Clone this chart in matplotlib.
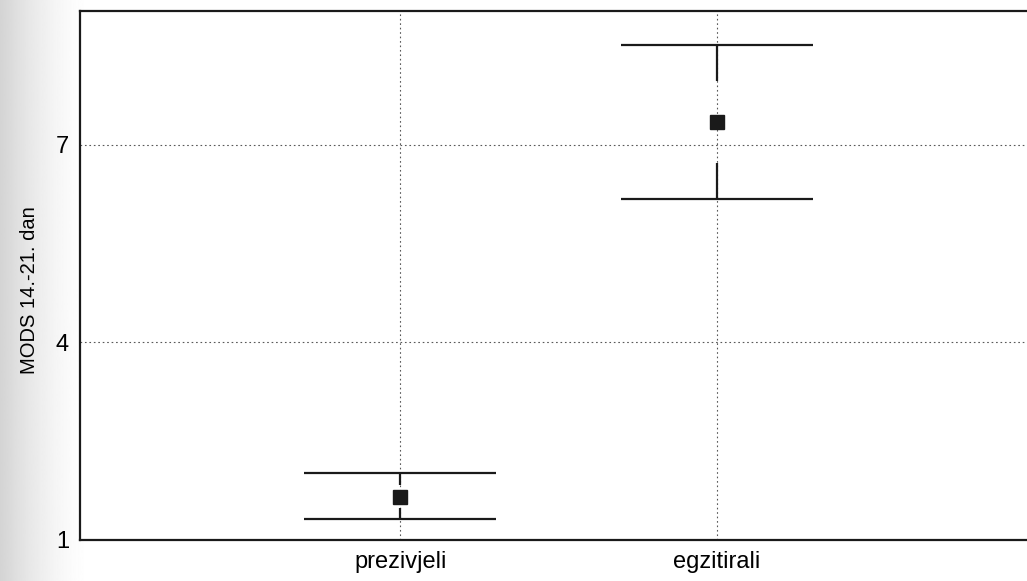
import numpy as np
import matplotlib.pyplot as plt

plt.rcParams['font.family'] = ['Liberation Sans', 'DejaVu Sans']

# groups and values
groups = ['prezivjeli', 'egzitirali']
means = [1.66, 7.34]
se_lo = [1.49, 6.73]     # mean - SE (inner end of whisker)
se_hi = [1.84, 7.96]     # mean + SE
ci_lo = [1.32, 6.18]     # mean - 1.96*SE (cap)
ci_hi = [2.02, 8.52]     # mean + 1.96*SE (cap)
yticks = [1, 4, 7]

fig = plt.figure(figsize=(10.27, 5.81), dpi=100)

# faint grey edge of the scanned page on the left
bg = fig.add_axes([0, 0, 0.09, 1], zorder=-5)
grad = 1 - 0.17 * np.linspace(1, 0, 100) ** 1.6
bg.imshow(grad[None, :], cmap='gray', vmin=0, vmax=1, aspect='auto', extent=(0, 1, 0, 1))
bg.axis('off')

ax = fig.add_axes([0.078, 0.0706, 0.935, 0.9105])
x = np.arange(len(groups))

ax.set_xlim(-1.01, 2.02)
ax.set_ylim(1, 9.03)
ax.set_xticks(x)
ax.set_xticklabels(groups)
ax.set_yticks(yticks)
ax.tick_params(length=0, labelsize=17, pad=8)
ax.grid(True, linestyle=(0, (1.5, 2.5)), color='0.35', linewidth=0.8)
ax.set_axisbelow(True)
for s in ax.spines.values():
    s.set_linewidth(1.6)
    s.set_color('#1a1a1a')
ax.spines['right'].set_visible(False)  # cut off by the scan

ax.set_ylabel('MODS 14.-21. dan', fontsize=14.5)
ax.yaxis.set_label_coords(-0.043, 0.473)

# whiskers: from +-SE out to the caps, box left blank
ax.vlines(x, se_hi, ci_hi, color='#1a1a1a', linewidth=1.6)
ax.vlines(x, ci_lo, se_lo, color='#1a1a1a', linewidth=1.6)
ax.hlines(ci_hi, x - 0.303, x + 0.303, color='#1a1a1a', linewidth=1.6)
ax.hlines(ci_lo, x - 0.303, x + 0.303, color='#1a1a1a', linewidth=1.6)
ax.plot(x, means, 's', color='#1a1a1a', markersize=10.5, linestyle='none')

fig.savefig('out.png', dpi=100)
